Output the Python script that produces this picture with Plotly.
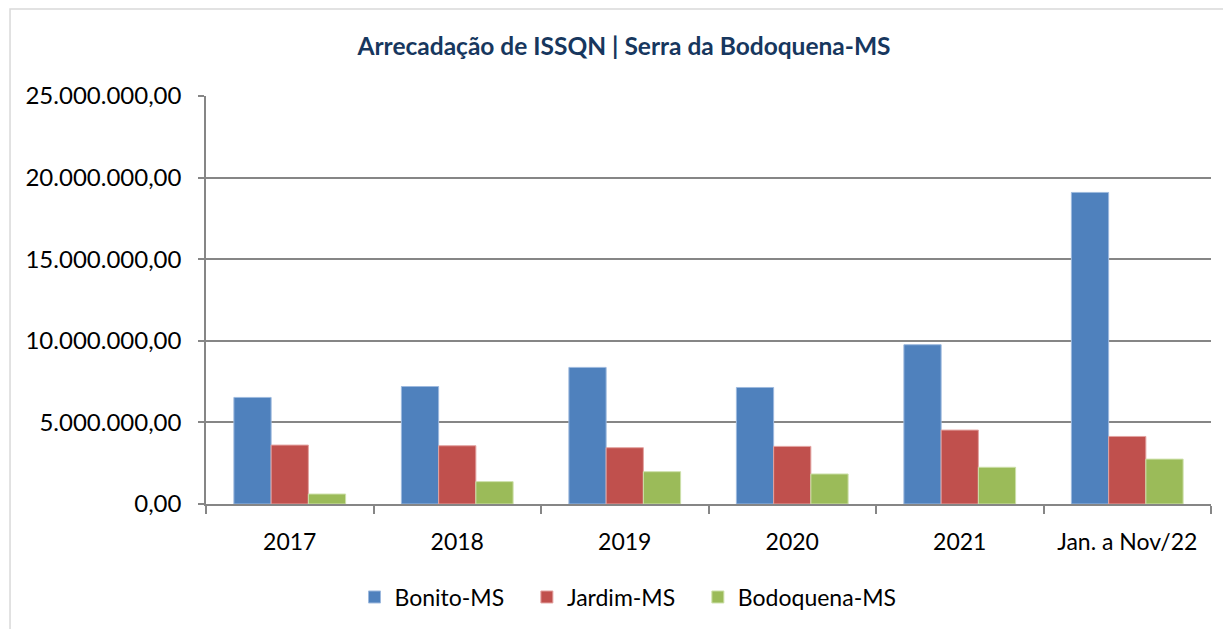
import plotly.graph_objects as go

categories = ["2017", "2018", "2019", "2020", "2021", "Jan. a Nov/22"]
bonito = [6530000, 7200000, 8370000, 7140000, 9760000, 19090000]
jardim = [3610000, 3570000, 3450000, 3530000, 4530000, 4140000]
bodoquena = [610000, 1370000, 1980000, 1840000, 2250000, 2750000]
series_names = ["Bonito-MS", "Jardim-MS", "Bodoquena-MS"]
colors = ["#4F81BD", "#C0504D", "#9BBB59"]
edge_colors = ["#9DB9DE", "#E3A3A1", "#CDE0AA"]
y_ticks = [0, 5000000, 10000000, 15000000, 20000000, 25000000]

W, H = 1223, 621
L, R, T, B = 198, 20, 88, 124
pw = W - L - R

fig = go.Figure()
n = len(series_names)
for i, (name, vals, c, ec) in enumerate(zip(series_names, [bonito, jardim, bodoquena], colors, edge_colors)):
    label = name + ("\u00a0" * 3 if i < n - 1 else "")
    fig.add_trace(go.Bar(x=categories, y=vals, name=label,
                         marker=dict(color=c, line=dict(color=ec, width=1))))

fig.update_layout(
    width=W, height=H,
    barmode="group", bargap=0.333, bargroupgap=0,
    separators=",.",
    paper_bgcolor="white", plot_bgcolor="white",
    margin=dict(l=L, r=R, t=T, b=B),
    font=dict(family="Lato, Carlito, sans-serif", size=23, color="black"),
    title=dict(text="<b>Arrecadação de ISSQN | Serra da Bodoquena-MS</b>",
               x=(624 - 8) / W, xanchor="center", y=1 - (46 - 8) / H, yanchor="middle",
               font=dict(size=24.5, color="#17375E", family="Lato, sans-serif")),
    legend=dict(orientation="h", x=(628 - 8 - L) / pw, xanchor="center", y=-0.225, yanchor="middle",
                font=dict(size=23), itemwidth=30, traceorder="normal"),
    showlegend=True,
)
fig.update_xaxes(type="category", showline=True, linecolor="#868686", linewidth=1.5,
                 ticks="outside", tickson="boundaries", ticklen=8, tickcolor="#868686",
                 tickwidth=1.5, showgrid=False, ticklabelstandoff=17)
fig.update_yaxes(range=[0, 25000000], tickvals=y_ticks, tickformat=",.2f",
                 showline=True, linecolor="#868686", linewidth=1.5,
                 ticks="outside", ticklen=6, tickcolor="#868686", tickwidth=1.5,
                 showgrid=True, gridcolor="#868686", gridwidth=1.5, zeroline=False,
                 ticklabelstandoff=12, tickfont=dict(size=24))
fig.add_shape(type="rect", xref="paper", yref="paper",
              x0=-0.195, x1=1.013, y0=-0.4, y1=1.213,
              line=dict(color="#D9D9D9", width=1.5), fillcolor="rgba(0,0,0,0)", layer="below")

fig.write_html("out.html")
